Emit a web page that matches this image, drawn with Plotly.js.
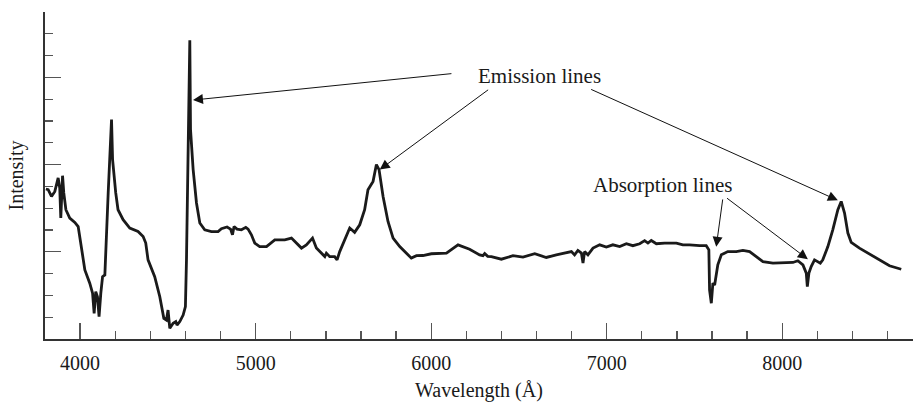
<!DOCTYPE html>
<html>
<head>
<meta charset="utf-8">
<script src="https://cdn.plot.ly/plotly-3.0.1.min.js"></script>
<style>html,body{margin:0;padding:0;background:#fff;}#chart{width:913px;height:402px;}</style>
</head>
<body>
<div id="chart"></div>
<script>
const wavelength = [3805,3818,3837,3856,3875,3884,3890,3900,3907,3919,
3941,3970,3989,4008,4027,4055,4071,4080,4089,4099,
4108,4118,4128,4141,4150,4160,4179,4185,4203,4216,
4245,4283,4330,4359,4374,4387,4425,4454,4477,4492,
4501,4511,4530,4545,4552,4568,4587,4600,4606,4615,
4625,4629,4644,4663,4682,4710,4748,4786,4805,4837,
4857,4868,4877,4894,4919,4944,4957,4976,4995,5023,
5062,5109,5166,5204,5232,5261,5289,5324,5346,5375,
5394,5403,5422,5450,5464,5479,5507,5536,5564,5593,
5621,5640,5669,5688,5703,5726,5754,5783,5821,5859,
5887,5916,5953,6001,6087,6153,6219,6276,6295,6305,
6322,6343,6400,6466,6523,6590,6656,6713,6770,6799,
6817,6836,6856,6865,6874,6893,6922,6960,6998,7035,
7074,7112,7149,7188,7216,7235,7254,7283,7330,7397,
7434,7472,7529,7567,7582,7584,7586,7596,7605,7615,
7624,7633,7653,7690,7738,7776,7814,7852,7890,7947,
8004,8061,8089,8118,8137,8143,8152,8165,8184,8203,
8217,8231,8260,8288,8317,8336,8355,8374,8393,8440,
8497,8554,8611,8678];

const intensity = [6.88,6.85,6.54,6.77,7.39,6.93,5.55,7.49,6.70,5.93,
5.55,5.35,5.16,4.24,3.17,2.56,2.10,1.18,2.17,1.94,
1.03,2.10,2.86,2.94,4.40,6.70,10.07,8.23,6.70,5.93,
5.47,5.09,4.93,4.70,4.40,3.63,2.86,1.94,0.95,0.87,
1.33,0.49,0.72,0.80,0.64,0.80,1.10,1.49,3.63,8.23,
13.70,9.61,7.77,6.24,5.32,5.01,4.93,4.93,5.06,5.14,
5.04,4.78,5.16,5.04,5.01,5.12,5.04,4.78,4.40,4.24,
4.24,4.55,4.55,4.63,4.40,4.17,4.32,4.63,4.17,3.94,
3.78,3.94,3.78,3.78,3.63,4.01,4.55,5.09,4.89,5.24,
5.93,6.85,7.23,8.00,7.77,6.54,5.39,4.63,4.24,3.94,
3.71,3.82,3.83,3.91,3.94,4.32,4.12,3.86,3.82,3.92,
3.79,3.78,3.66,3.82,3.76,3.91,3.74,3.86,3.94,4.01,
3.86,4.06,3.94,3.48,4.01,3.86,4.17,4.32,4.22,4.32,
4.24,4.37,4.28,4.37,4.51,4.40,4.52,4.37,4.40,4.40,
4.32,4.32,4.28,4.28,4.09,3.32,2.25,1.64,2.56,2.48,
2.86,3.40,3.86,4.01,4.01,4.06,4.01,3.78,3.55,3.48,
3.48,3.51,3.59,3.40,3.02,2.40,3.02,3.32,3.63,3.55,
3.48,3.63,4.24,5.01,5.93,6.31,5.78,4.86,4.43,4.17,
3.91,3.63,3.36,3.20];

const xTickVals = [4000, 5000, 6000, 7000, 8000];
const xTickText = ["4000", "5000", "6000", "7000", "8000"];
const yTickVals = [4, 8, 12];

const labelEmission = "Emission lines";
const labelAbsorption = "Absorption lines";
// arrow heads [x, y] and tails [x, y] in data units
const emissionHeads = [[4643, 10.96], [5707, 7.77], [8317, 6.36]];
const emissionTails = [[6124, 12.18], [6333, 11.48], [6903, 11.48]];
const absorptionHeads = [[7624, 4.23], [8146, 3.66]];
const absorptionTails = [[7662, 6.47], [7677, 6.51]];
const emissionLabelPos = [6618, 12.05];
const absorptionLabelPos = [7318, 7.08];

const FONT = "'Liberation Serif', 'Times New Roman', serif";

const annotations = [];
function addArrows(heads, tails) {
  heads.forEach((h, i) => {
    annotations.push({
      x: h[0], y: h[1], xref: 'x', yref: 'y',
      ax: tails[i][0], ay: tails[i][1], axref: 'x', ayref: 'y',
      text: '', showarrow: true, arrowhead: 2, arrowsize: 2, arrowwidth: 1,
      arrowcolor: '#111', standoff: 0, startstandoff: 0
    });
  });
}
addArrows(emissionHeads, emissionTails);
addArrows(absorptionHeads, absorptionTails);
annotations.push({x: emissionLabelPos[0], y: emissionLabelPos[1], xref: 'x', yref: 'y',
  text: labelEmission, showarrow: false, font: {family: FONT, size: 21, color: '#1a1a1a'}});
annotations.push({x: absorptionLabelPos[0], y: absorptionLabelPos[1], xref: 'x', yref: 'y',
  text: labelAbsorption, showarrow: false, font: {family: FONT, size: 21, color: '#1a1a1a'}});

const trace = {
  x: wavelength, y: intensity, type: 'scatter', mode: 'lines',
  line: {color: '#1a1a1a', width: 2.8},
  hoverinfo: 'skip'
};

const layout = {
  width: 913, height: 402,
  margin: {l: 45, r: 0, t: 12, b: 63, pad: 0},
  paper_bgcolor: '#fff', plot_bgcolor: '#fff',
  showlegend: false,
  font: {family: FONT, color: '#1a1a1a', size: 20},
  xaxis: {
    range: [3800, 8745], showgrid: false, zeroline: false,
    showline: true, linecolor: '#333', linewidth: 2,
    tickmode: 'array', tickvals: xTickVals, ticktext: xTickText,
    ticks: 'inside', ticklen: 16, tickwidth: 1.3, tickcolor: '#555',
    ticklabelstandoff: 5,
    tickfont: {family: FONT, size: 20, color: '#1a1a1a'},
    minor: {dtick: 200, tick0: 0, ticks: 'inside', ticklen: 8, tickwidth: 1.3, tickcolor: '#555', showgrid: false},
    title: {text: 'Wavelength (Å)', font: {family: FONT, size: 20, color: '#1a1a1a'}, standoff: 10},
    fixedrange: true
  },
  yaxis: {
    range: [0, 15], showgrid: false, zeroline: false,
    showline: true, linecolor: '#333', linewidth: 2,
    tickmode: 'array', tickvals: yTickVals, showticklabels: false,
    ticks: 'inside', ticklen: 16, tickwidth: 1.3, tickcolor: '#555',
    minor: {dtick: 1, tick0: 0, ticks: 'inside', ticklen: 8, tickwidth: 1.3, tickcolor: '#555', showgrid: false},
    title: {text: 'Intensity', font: {family: FONT, size: 20, color: '#1a1a1a'}, standoff: 14},
    fixedrange: true
  },
  annotations: annotations
};

Plotly.newPlot('chart', [trace], layout, {displayModeBar: false, staticPlot: true});
</script>
</body>
</html>
